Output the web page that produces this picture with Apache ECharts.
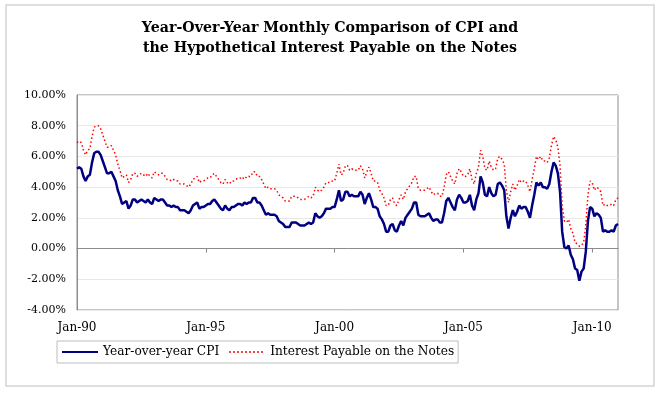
<!DOCTYPE html>
<html>
<head>
<meta charset="utf-8">
<script src="https://cdn.jsdelivr.net/npm/echarts@6/dist/echarts.min.js"></script>
<style>
html,body{margin:0;padding:0;background:#fff;}
#chart{width:660px;height:393px;}
</style>
</head>
<body>
<div id="chart"></div>
<script>
// Months Jan-1990 .. Jan-2011
const monthNames = ['Jan','Feb','Mar','Apr','May','Jun','Jul','Aug','Sep','Oct','Nov','Dec'];
const startYear = 1990;
const monthCount = 253;
const tickLabels = ['Jan-90','Jan-95','Jan-00','Jan-05','Jan-10'];
const seriesNames = ['Year-over-year CPI', 'Interest Payable on the Notes'];

// Year-over-year CPI (%)
const cpi = [
  5.2, 5.3, 5.2, 4.7, 4.4, 4.7, 4.8, 5.6, 6.2, 6.3, 6.3, 6.1,
  5.7, 5.3, 4.9, 4.9, 5.0, 4.7, 4.4, 3.8, 3.4, 2.9, 3.0, 3.1,
  2.6, 2.8, 3.2, 3.2, 3.0, 3.1, 3.2, 3.1, 3.0, 3.2, 3.0, 2.9,
  3.3, 3.2, 3.1, 3.2, 3.2, 3.0, 2.8, 2.8, 2.7, 2.8, 2.7, 2.7,
  2.5, 2.5, 2.5, 2.4, 2.3, 2.5, 2.8, 2.9, 3.0, 2.6, 2.7, 2.7,
  2.8, 2.9, 2.9, 3.1, 3.2, 3.0, 2.8, 2.6, 2.5, 2.8, 2.6, 2.5,
  2.7, 2.7, 2.8, 2.9, 2.9, 2.8, 3.0, 2.9, 3.0, 3.0, 3.3, 3.3,
  3.0, 3.0, 2.8, 2.5, 2.2, 2.3, 2.2, 2.2, 2.2, 2.1, 1.8, 1.7,
  1.6, 1.4, 1.4, 1.4, 1.7, 1.7, 1.7, 1.6, 1.5, 1.5, 1.5, 1.6,
  1.7, 1.6, 1.7, 2.3, 2.1, 2.0, 2.1, 2.3, 2.6, 2.6, 2.6, 2.7,
  2.7, 3.2, 3.8, 3.1, 3.2, 3.7, 3.7, 3.4, 3.5, 3.4, 3.4, 3.4,
  3.7, 3.5, 2.9, 3.3, 3.6, 3.2, 2.7, 2.7, 2.6, 2.1, 1.9, 1.6,
  1.1, 1.1, 1.5, 1.6, 1.2, 1.1, 1.5, 1.8, 1.5, 2.0, 2.2, 2.4,
  2.6, 3.0, 3.0, 2.2, 2.1, 2.1, 2.1, 2.2, 2.3, 2.0, 1.8, 1.9,
  1.9, 1.7, 1.7, 2.3, 3.1, 3.3, 3.0, 2.7, 2.5, 3.2, 3.5, 3.3,
  3.0, 3.0, 3.1, 3.5, 2.8, 2.5, 3.2, 3.6, 4.7, 4.3, 3.5, 3.4,
  4.0, 3.6, 3.4, 3.5, 4.2, 4.3, 4.1, 3.8, 2.1, 1.3, 2.0, 2.5,
  2.1, 2.4, 2.8, 2.6, 2.7, 2.7, 2.4, 2.0, 2.8, 3.5, 4.3, 4.1,
  4.3, 4.0, 4.0, 3.9, 4.2, 5.0, 5.6, 5.4, 4.9, 3.7, 1.1, 0.1,
  0.0, 0.2, -0.4, -0.7, -1.3, -1.4, -2.1, -1.5, -1.3, -0.2, 1.8, 2.7,
  2.6, 2.1, 2.3, 2.2, 2.0, 1.1, 1.2, 1.1, 1.1, 1.2, 1.1, 1.5,
  1.6
];

// Hypothetical interest payable on the notes (%)
const notes = [
  6.9, 7.0, 6.9, 6.4, 6.1, 6.4, 6.5, 7.3, 7.9, 8.0, 8.0, 7.8,
  7.4, 7.0, 6.6, 6.6, 6.7, 6.4, 6.1, 5.5, 5.1, 4.6, 4.7, 4.8,
  4.3, 4.5, 4.9, 4.9, 4.7, 4.8, 4.9, 4.8, 4.7, 4.9, 4.7, 4.6,
  5.0, 4.9, 4.8, 4.9, 4.9, 4.7, 4.5, 4.5, 4.4, 4.5, 4.4, 4.4,
  4.2, 4.2, 4.2, 4.1, 4.0, 4.2, 4.5, 4.6, 4.7, 4.3, 4.4, 4.4,
  4.5, 4.6, 4.6, 4.8, 4.9, 4.7, 4.5, 4.3, 4.2, 4.5, 4.3, 4.2,
  4.4, 4.4, 4.5, 4.6, 4.6, 4.5, 4.7, 4.6, 4.7, 4.7, 5.0, 5.0,
  4.7, 4.7, 4.5, 4.2, 3.9, 4.0, 3.9, 3.9, 3.9, 3.8, 3.5, 3.4,
  3.3, 3.1, 3.1, 3.1, 3.4, 3.4, 3.4, 3.3, 3.2, 3.2, 3.2, 3.3,
  3.4, 3.3, 3.4, 4.0, 3.8, 3.7, 3.8, 4.0, 4.3, 4.3, 4.3, 4.4,
  4.4, 4.9, 5.5, 4.8, 4.9, 5.4, 5.4, 5.1, 5.2, 5.1, 5.1, 5.1,
  5.4, 5.2, 4.6, 5.0, 5.3, 4.9, 4.4, 4.4, 4.3, 3.8, 3.6, 3.3,
  2.8, 2.8, 3.2, 3.3, 2.9, 2.8, 3.2, 3.5, 3.2, 3.7, 3.9, 4.1,
  4.3, 4.7, 4.7, 3.9, 3.8, 3.8, 3.8, 3.9, 4.0, 3.7, 3.5, 3.6,
  3.6, 3.4, 3.4, 4.0, 4.8, 5.0, 4.7, 4.4, 4.2, 4.9, 5.2, 5.0,
  4.7, 4.7, 4.8, 5.2, 4.5, 4.2, 4.9, 5.3, 6.4, 6.0, 5.2, 5.1,
  5.7, 5.3, 5.1, 5.2, 5.9, 6.0, 5.8, 5.5, 3.8, 3.0, 3.7, 4.2,
  3.8, 4.1, 4.5, 4.3, 4.4, 4.4, 4.1, 3.7, 4.5, 5.2, 6.0, 5.8,
  6.0, 5.7, 5.7, 5.6, 5.9, 6.7, 7.3, 7.1, 6.6, 5.4, 2.8, 1.8,
  1.7, 1.9, 1.3, 1.0, 0.4, 0.3, 0.15, 0.2, 0.4, 1.5, 3.5, 4.4,
  4.3, 3.8, 4.0, 3.9, 3.7, 2.8, 2.9, 2.8, 2.8, 2.9, 2.8, 3.2,
  3.3
];

const categories = [];
for (let i = 0; i < monthCount; i++) {
  const y = startYear + Math.floor(i / 12);
  categories.push(monthNames[i % 12] + '-' + String(y % 100).padStart(2, '0'));
}

const serif = 'DejaVu Serif';
const chart = echarts.init(document.getElementById('chart'), null, {renderer: 'canvas'});
chart.setOption({
  animation: false,
  backgroundColor: '#ffffff',
  graphic: [{
    type: 'rect',
    shape: {x: 6, y: 5, width: 648, height: 381},
    style: {fill: 'none', stroke: '#d4d4d4', lineWidth: 1.5},
    silent: true
  }],
  title: {
    text: 'Year-Over-Year Monthly Comparison of CPI and\nthe Hypothetical Interest Payable on the Notes',
    left: 'center',
    top: 18,
    padding: 0,
    textStyle: {fontFamily: serif, fontWeight: 'bold', fontSize: 14.2, lineHeight: 20, color: '#000'}
  },
  legend: {
    show: true,
    left: 57,
    top: 341,
    orient: 'horizontal',
    padding: [5, 4],
    itemGap: 9,
    itemWidth: 36,
    itemHeight: 14,
    borderColor: '#bdbdbd',
    borderWidth: 1,
    itemStyle: {opacity: 0},
    textStyle: {fontFamily: serif, fontSize: 12.2, color: '#000'},
    data: seriesNames
  },
  grid: {
    left: 77, right: 42, top: 95, bottom: 83,
    show: true, borderColor: '#8c8c8c', borderWidth: 1
  },
  xAxis: {
    type: 'category',
    data: categories,
    boundaryGap: false,
    axisLine: {lineStyle: {color: '#8c8c8c', width: 1}},
    axisTick: {
      show: true, length: 4, inside: false,
      interval: function (i, v) { return tickLabels.indexOf(v) >= 0; },
      lineStyle: {color: '#8c8c8c'}
    },
    axisLabel: {
      interval: function (i, v) { return tickLabels.indexOf(v) >= 0; },
      margin: 12,
      fontFamily: serif, fontSize: 12, color: '#000'
    },
    splitLine: {show: false}
  },
  yAxis: {
    type: 'value',
    min: -4, max: 10, interval: 2,
    axisLine: {show: true, lineStyle: {color: '#8c8c8c', width: 1}},
    axisTick: {show: false},
    axisLabel: {
      formatter: function (v) { return v.toFixed(2) + '%'; },
      margin: 11,
      fontFamily: serif, fontSize: 11, color: '#000'
    },
    splitLine: {show: true, lineStyle: {color: '#e8e8e8', width: 1}}
  },
  series: [
    {
      name: seriesNames[0],
      type: 'line',
      data: cpi,
      symbol: 'none',
      lineStyle: {color: '#000080', width: 2.5},
      itemStyle: {color: '#000080'}
    },
    {
      name: seriesNames[1],
      type: 'line',
      data: notes,
      symbol: 'none',
      lineStyle: {color: '#ff0000', width: 1.5, type: [1.5, 2.5]},
      itemStyle: {color: '#ff0000'}
    }
  ]
});
</script>
</body>
</html>
